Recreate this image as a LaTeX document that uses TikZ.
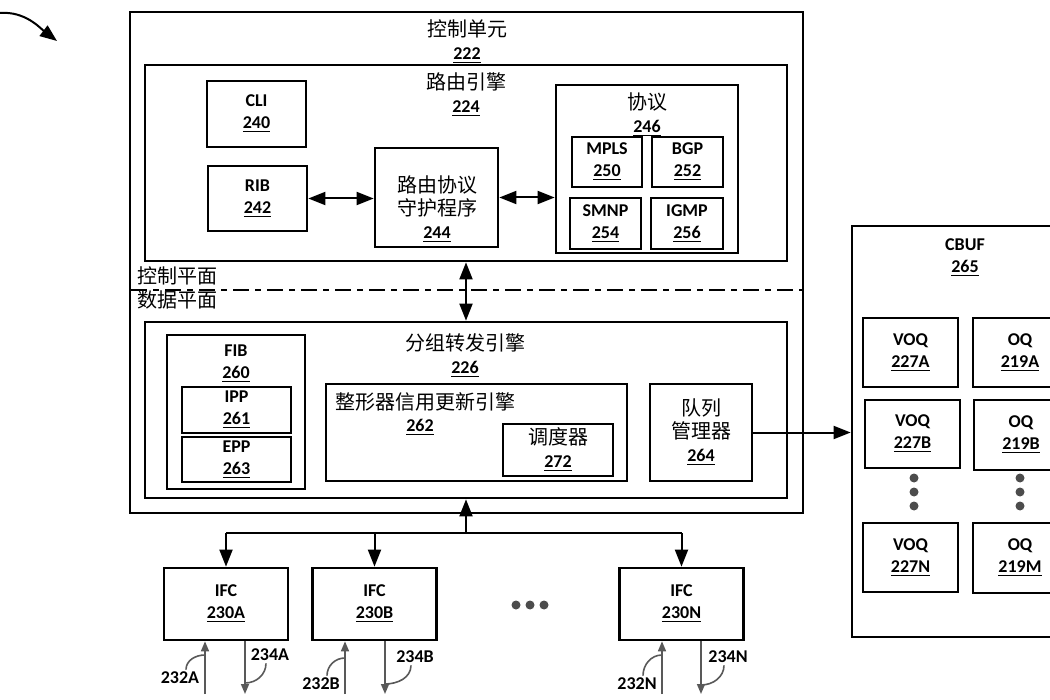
\documentclass[tikz,border=0pt]{standalone}
\usepackage{fontspec}
\setmainfont{Carlito}
\newfontfamily\cjk{Noto Sans CJK SC}
\usetikzlibrary{arrows.meta}
\newcommand{\refnum}[1]{{\normalfont\fontsize{9}{11}\selectfont\bfseries\underline{#1}}}

\begin{document}
\begin{tikzpicture}[x=0.5pt,y=-0.5pt,%%
  boxStyle/.style={draw,line width=1.35pt,inner sep=0pt},%%
  labelStyle/.style={align=center,inner sep=1pt,font=\fontsize{9}{11}\selectfont\bfseries},%%
  hanStyle/.style={align=center,inner sep=1pt,font=\fontsize{10}{11.5}\selectfont\cjk},%%
  wireStyle/.style={line width=1pt},%%
  lineStyle/.style={line width=1pt,-{Triangle[length=8.5pt,width=6.5pt]}},%%
  bothStyle/.style={line width=1pt,{Triangle[length=8.5pt,width=6.5pt]}-{Triangle[length=8.5pt,width=6.5pt]}},%%
  planeStyle/.style={line width=0.9pt,dash pattern=on 8pt off 3pt on 3pt off 3pt},%%
  portStyle/.style={draw=black!65,line width=0.8pt,-{Triangle[length=5pt,width=4pt]}},%%
  portLabelStyle/.style={inner sep=1pt,font=\fontsize{9}{11}\selectfont\bfseries},%%
  leaderStyle/.style={draw=black!65,line width=0.8pt},%%
  dotStyle/.style={circle,fill=black!70,inner sep=0pt,minimum size=4.5pt}%%
]
\useasboundingbox (0,0) rectangle (1050,700);
\clip (0,0) rectangle (1050,700);
%%
%% Reference arrow.
\coordinate (refA) at (0,13);
\coordinate (refB) at (57,41);
\draw[lineStyle] (refA) .. controls (25,11) and (40,28) .. (refB);
%%
%% Control unit with the routing engine.
\node (CU) [boxStyle,minimum width=336.5pt,minimum height=250.5pt] at (466.5,262.5) {};
\node (CUname) [hanStyle] at (467,42) {控制单元\\\refnum{222}};
\node (RE) [boxStyle,minimum width=321pt,minimum height=98pt] at (466,163) {};
\node (REname) [hanStyle] at (466,95) {路由引擎\\\refnum{224}};
\node (CLI) [boxStyle,labelStyle,minimum width=49.5pt,minimum height=33pt] at (256.5,114) {CLI\\\refnum{240}};
\node (RIB) [boxStyle,labelStyle,minimum width=49.5pt,minimum height=32.5pt] at (257.5,198.5) {RIB\\\refnum{242}};
\node (RPD) [boxStyle,minimum width=61.5pt,minimum height=49.5pt] at (436.5,197.5) {};
\node (RPDname) [hanStyle] at (437,209) {路由协议\\守护程序\\\refnum{244}};
\node (PROT) [boxStyle,minimum width=91pt,minimum height=84pt] at (647,169) {};
\node (PROTname) [hanStyle] at (647,115) {协议\\\refnum{246}};
\node (MPLS) [boxStyle,labelStyle,minimum width=35pt,minimum height=25pt] at (607,162) {MPLS\\\refnum{250}};
\node (BGP) [boxStyle,labelStyle,minimum width=35.5pt,minimum height=25pt] at (687.5,162) {BGP\\\refnum{252}};
\node (SMNP) [boxStyle,labelStyle,minimum width=35.5pt,minimum height=25.5pt] at (605.5,223.5) {SMNP\\\refnum{254}};
\node (IGMP) [boxStyle,labelStyle,minimum width=36pt,minimum height=25.5pt] at (687,223.5) {IGMP\\\refnum{256}};
\draw[bothStyle] (RIB.east) -- (RIB.east -| RPD.west);
\draw[bothStyle] (RPD.east) -- (RPD.east -| PROT.west);
%%
%% Control plane / data plane.
\coordinate (planeW) at (131,290);
\coordinate (planeE) at (802,290);
\draw[planeStyle] (planeW) -- (planeE);
\node (CP) [hanStyle,anchor=west] at (135,276) {控制平面};
\node (DP) [hanStyle,anchor=west] at (135,300) {数据平面};
%%
%% Packet forwarding engine.
\node (FE) [boxStyle,minimum width=321pt,minimum height=88pt] at (466,410) {};
\node (FEname) [hanStyle] at (465,356) {分组转发引擎\\\refnum{226}};
\node (FIB) [boxStyle,minimum width=69pt,minimum height=77pt] at (236,412) {};
\node (FIBname) [labelStyle] at (236,363.5) {FIB\\\refnum{260}};
\node (IPP) [boxStyle,labelStyle,minimum width=54.5pt,minimum height=23pt] at (236.5,410) {IPP\\\refnum{261}};
\node (EPP) [boxStyle,labelStyle,minimum width=54.5pt,minimum height=22.5pt] at (236.5,459.5) {EPP\\\refnum{263}};
\node (SCE) [boxStyle,minimum width=150.5pt,minimum height=48.5pt] at (476.5,432.5) {};
\node (SCEname) [hanStyle,anchor=west] at (333,402) {整形器信用更新引擎};
\node (SCEnum) [labelStyle] at (420,427) {\refnum{262}};
\node (SCH) [boxStyle,minimum width=55pt,minimum height=26pt] at (558,450) {};
\node (SCHname) [hanStyle] at (558,450) {调度器\\\refnum{272}};
\node (QM) [boxStyle,hanStyle,minimum width=51pt,minimum height=48.5pt] at (701,432.5) {队列\\管理器\\\refnum{264}};
\draw[bothStyle] (RE.south) -- (FE.north);
%%
%% CBUF with its queues.
\node (CBUF) [boxStyle,minimum width=113pt,minimum height=205.5pt] at (965,431.5) {};
\node (CBUFname) [labelStyle] at (965,257.5) {CBUF\\\refnum{265}};
\node (VOQa) [boxStyle,labelStyle,minimum width=47.5pt,minimum height=34.5pt] at (910.5,352.5) {VOQ\\\refnum{227A}};
\node (OQa) [boxStyle,labelStyle,minimum width=47pt,minimum height=34.5pt] at (1020,352.5) {OQ\\\refnum{219A}};
\node (VOQb) [boxStyle,labelStyle,minimum width=47.5pt,minimum height=34pt] at (912.5,434) {VOQ\\\refnum{227B}};
\node (OQb) [boxStyle,labelStyle,minimum width=47pt,minimum height=35pt] at (1021,435) {OQ\\\refnum{219B}};
\node (VOQn) [boxStyle,labelStyle,minimum width=47.5pt,minimum height=34.5pt] at (910.5,557.5) {VOQ\\\refnum{227N}};
\node (OQm) [boxStyle,labelStyle,minimum width=47pt,minimum height=35pt] at (1020,558) {OQ\\\refnum{219M}};
\node (vdot1) [dotStyle] at (914,478) {};
\node (vdot2) [dotStyle] at (914,492) {};
\node (vdot3) [dotStyle] at (914,506) {};
\node (odot1) [dotStyle] at (1020,478) {};
\node (odot2) [dotStyle] at (1020,492) {};
\node (odot3) [dotStyle] at (1020,506) {};
\draw[lineStyle] (QM.east) -- (QM.east -| CBUF.west);
%%
%% Interface cards.
\node (IFCa) [boxStyle,labelStyle,minimum width=62pt,minimum height=36pt] at (226,604) {IFC\\\refnum{230A}};
\node (IFCb) [boxStyle,labelStyle,minimum width=62pt,minimum height=36pt] at (374.5,604) {IFC\\\refnum{230B}};
\node (IFCn) [boxStyle,labelStyle,minimum width=62pt,minimum height=36pt] at (681.5,604) {IFC\\\refnum{230N}};
\node (hdot1) [dotStyle] at (516,605) {};
\node (hdot2) [dotStyle] at (530,605) {};
\node (hdot3) [dotStyle] at (544,605) {};
\coordinate (bus) at (466,533);
\draw[lineStyle] (bus) -- (bus |- FE.south);
\draw[wireStyle] (IFCa.north |- bus) -- (IFCn.north |- bus);
\draw[lineStyle] (IFCa.north |- bus) -- (IFCa.north);
\draw[lineStyle] (IFCb.north |- bus) -- (IFCb.north);
\draw[lineStyle] (IFCn.north |- bus) -- (IFCn.north);
%%
%% Inbound and outbound links.
\coordinate (inA) at (205,694);
\coordinate (outA) at (245,694);
\coordinate (inB) at (345,694);
\coordinate (outB) at (385,694);
\coordinate (inN) at (662,694);
\coordinate (outN) at (701,694);
\draw[portStyle] (inA) -- (inA |- IFCa.south);
\draw[portStyle] (outA |- IFCa.south) -- (outA);
\draw[portStyle] (inB) -- (inB |- IFCb.south);
\draw[portStyle] (outB |- IFCb.south) -- (outB);
\draw[portStyle] (inN) -- (inN |- IFCn.south);
\draw[portStyle] (outN |- IFCn.south) -- (outN);
\node (l232A) [portLabelStyle] at (180,678) {232A};
\node (l234A) [portLabelStyle] at (270,655) {234A};
\node (l232B) [portLabelStyle] at (321,684) {232B};
\node (l234B) [portLabelStyle] at (415,657) {234B};
\node (l232N) [portLabelStyle] at (637,684) {232N};
\node (l234N) [portLabelStyle] at (728,657) {234N};
\draw[leaderStyle] ([xshift=3pt]l232A.north) to[out=90,in=180] (inA |- 0,655);
\draw[leaderStyle] ([xshift=-2pt]l234A.south) to[out=-90,in=0] (outA |- 0,683);
\draw[leaderStyle] ([xshift=3pt]l232B.north) to[out=90,in=180] (inB |- 0,658);
\draw[leaderStyle] ([xshift=-2pt]l234B.south) to[out=-90,in=0] (outB |- 0,684);
\draw[leaderStyle] ([xshift=3pt]l232N.north) to[out=90,in=180] (inN |- 0,655);
\draw[leaderStyle] ([xshift=-2pt]l234N.south) to[out=-90,in=0] (outN |- 0,685);
\end{tikzpicture}
\end{document}
